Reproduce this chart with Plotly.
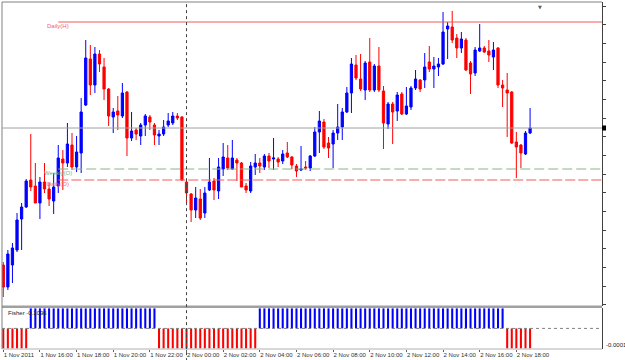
import pandas as pd
import plotly.graph_objects as go

# ---------------- data ----------------
times = list(pd.date_range("2011-11-01 14:00", periods=116, freq="15min").strftime("%Y-%m-%d %H:%M"))

opens = [1.37675, 1.37565, 1.37675, 1.37750, 1.37905, 1.37965, 1.38100, 1.38070, 1.37985, 1.38090,
         1.38055, 1.37995, 1.38070, 1.38205, 1.38185, 1.38275, 1.38165, 1.38235, 1.38475, 1.38705,
         1.38575, 1.38730, 1.38665, 1.38555, 1.38415, 1.38445, 1.38420, 1.38540, 1.38310, 1.38350,
         1.38320, 1.38375, 1.38415, 1.38375, 1.38320, 1.38330, 1.38375, 1.38385, 1.38420, 1.38415,
         1.38090, 1.38030, 1.37950, 1.38005, 1.37935, 1.38050, 1.38095, 1.38045, 1.38155, 1.38210,
         1.38155, 1.38200, 1.38185, 1.38070, 1.38045, 1.38165, 1.38185, 1.38165, 1.38220, 1.38205,
         1.38205, 1.38195, 1.38235, 1.38215, 1.38170, 1.38150, 1.38165, 1.38160, 1.38220, 1.38340,
         1.38390, 1.38285, 1.38280, 1.38335, 1.38365, 1.38440, 1.38535, 1.38675, 1.38605, 1.38550,
         1.38690, 1.38550, 1.38670, 1.38545, 1.38380, 1.38480, 1.38445, 1.38530, 1.38430, 1.38465,
         1.38560, 1.38600, 1.38600, 1.38690, 1.38655, 1.38665, 1.38680, 1.38855, 1.38865, 1.38810,
         1.38760, 1.38800, 1.38685, 1.38635, 1.38745, 1.38760, 1.38745, 1.38715, 1.38760, 1.38575,
         1.38550, 1.38540, 1.38290, 1.38275, 1.38230, 1.38335]

highs = [1.37690, 1.37750, 1.37785, 1.37935, 1.37985, 1.38105, 1.38330, 1.38185, 1.38115, 1.38185,
         1.38085, 1.38135, 1.38275, 1.38250, 1.38385, 1.38335, 1.38320, 1.38510, 1.38800, 1.38775,
         1.38765, 1.38750, 1.38710, 1.38560, 1.38460, 1.38520, 1.38585, 1.38545, 1.38440, 1.38360,
         1.38385, 1.38430, 1.38425, 1.38385, 1.38350, 1.38400, 1.38435, 1.38440, 1.38435, 1.38420,
         1.38095, 1.38035, 1.38065, 1.38055, 1.38065, 1.38210, 1.38110, 1.38210, 1.38285, 1.38275,
         1.38300, 1.38210, 1.38190, 1.38085, 1.38190, 1.38230, 1.38210, 1.38230, 1.38235, 1.38310,
         1.38215, 1.38250, 1.38290, 1.38220, 1.38180, 1.38270, 1.38195, 1.38225, 1.38365, 1.38445,
         1.38405, 1.38315, 1.38350, 1.38480, 1.38460, 1.38565, 1.38710, 1.38725, 1.38730, 1.38695,
         1.38810, 1.38680, 1.38765, 1.38570, 1.38490, 1.38490, 1.38540, 1.38540, 1.38565, 1.38570,
         1.38650, 1.38605, 1.38735, 1.38770, 1.38715, 1.38710, 1.38940, 1.38890, 1.38945, 1.38830,
         1.38840, 1.38810, 1.38695, 1.38765, 1.38880, 1.38770, 1.38800, 1.38790, 1.38765, 1.38600,
         1.38635, 1.38545, 1.38340, 1.38280, 1.38345, 1.38460]

lows = [1.37515, 1.37550, 1.37585, 1.37740, 1.37750, 1.37960, 1.38045, 1.37985, 1.37905, 1.38035,
        1.37970, 1.37930, 1.38035, 1.38050, 1.38165, 1.38150, 1.38140, 1.38135, 1.38470, 1.38525,
        1.38535, 1.38640, 1.38500, 1.38370, 1.38335, 1.38350, 1.38410, 1.38220, 1.38295, 1.38300,
        1.38275, 1.38320, 1.38350, 1.38275, 1.38275, 1.38320, 1.38365, 1.38375, 1.38400, 1.38095,
        1.37985, 1.37890, 1.37910, 1.37900, 1.37910, 1.38045, 1.38000, 1.38005, 1.38120, 1.38150,
        1.38150, 1.38095, 1.38065, 1.38035, 1.38035, 1.38125, 1.38135, 1.38150, 1.38160, 1.38150,
        1.38165, 1.38180, 1.38210, 1.38155, 1.38115, 1.38145, 1.38150, 1.38145, 1.38215, 1.38235,
        1.38255, 1.38210, 1.38160, 1.38300, 1.38300, 1.38435, 1.38435, 1.38600, 1.38545, 1.38500,
        1.38540, 1.38540, 1.38540, 1.38255, 1.38355, 1.38280, 1.38395, 1.38425, 1.38425, 1.38450,
        1.38550, 1.38540, 1.38560, 1.38640, 1.38560, 1.38620, 1.38675, 1.38705, 1.38785, 1.38710,
        1.38735, 1.38645, 1.38530, 1.38620, 1.38740, 1.38735, 1.38690, 1.38650, 1.38560, 1.38465,
        1.38315, 1.38280, 1.38110, 1.38160, 1.38225, 1.38330]

closes = [1.37565, 1.37730, 1.37760, 1.37900, 1.37965, 1.38095, 1.38065, 1.37985, 1.38090, 1.38055,
          1.38005, 1.38065, 1.38210, 1.38185, 1.38280, 1.38165, 1.38240, 1.38440, 1.38710, 1.38575,
          1.38730, 1.38680, 1.38555, 1.38420, 1.38440, 1.38425, 1.38535, 1.38310, 1.38345, 1.38330,
          1.38375, 1.38420, 1.38390, 1.38325, 1.38330, 1.38365, 1.38395, 1.38420, 1.38410, 1.38100,
          1.38035, 1.37950, 1.38010, 1.37910, 1.38035, 1.38090, 1.38050, 1.38165, 1.38215, 1.38160,
          1.38210, 1.38185, 1.38065, 1.38050, 1.38170, 1.38185, 1.38170, 1.38220, 1.38195, 1.38210,
          1.38190, 1.38230, 1.38215, 1.38175, 1.38145, 1.38155, 1.38160, 1.38220, 1.38340, 1.38395,
          1.38265, 1.38260, 1.38335, 1.38365, 1.38440, 1.38535, 1.38680, 1.38610, 1.38555, 1.38685,
          1.38550, 1.38670, 1.38550, 1.38385, 1.38480, 1.38440, 1.38525, 1.38430, 1.38470, 1.38560,
          1.38605, 1.38555, 1.38665, 1.38655, 1.38670, 1.38680, 1.38840, 1.38870, 1.38800, 1.38760,
          1.38805, 1.38650, 1.38630, 1.38750, 1.38760, 1.38740, 1.38725, 1.38750, 1.38575, 1.38560,
          1.38535, 1.38285, 1.38265, 1.38235, 1.38335, 1.38360]

fisher = [-1, -1, -1, -1, -1, -1,
          1, 1, 1, 1, 1, 1, 1, 1, 1, 1, 1, 1, 1, 1, 1, 1, 1, 1, 1, 1, 1, 1, 1, 1, 1, 1, 1, 1,
          -1, -1, -1, -1, -1, -1, -1, -1, -1, -1, -1, -1, -1, -1, -1, -1, -1, -1, -1, -1, -1, -1,
          1, 1, 1, 1, 1, 1, 1, 1, 1, 1, 1, 1, 1, 1, 1, 1, 1, 1, 1, 1, 1, 1, 1, 1, 1, 1, 1, 1, 1,
          1, 1, 1, 1, 1, 1, 1, 1, 1, 1, 1, 1, 1, 1, 1, 1, 1, 1, 1, 1, 1, 1, 1, 1, 1,
          -1, -1, -1, -1, -1, -1, -1, -1, -1, -1]

tick_times = ["2011-11-01 14:00", "2011-11-01 16:00", "2011-11-01 18:00", "2011-11-01 20:00",
              "2011-11-01 22:00", "2011-11-02 00:00", "2011-11-02 02:00", "2011-11-02 04:00",
              "2011-11-02 06:00", "2011-11-02 08:00", "2011-11-02 10:00", "2011-11-02 12:00",
              "2011-11-02 14:00", "2011-11-02 16:00", "2011-11-02 18:00"]
tick_labels = ["1 Nov 2011", "1 Nov 16:00", "1 Nov 18:00", "1 Nov 20:00", "1 Nov 22:00",
               "2 Nov 00:00", "2 Nov 02:00", "2 Nov 04:00", "2 Nov 06:00", "2 Nov 08:00",
               "2 Nov 10:00", "2 Nov 12:00", "2 Nov 14:00", "2 Nov 16:00", "2 Nov 18:00"]

level_names = ["Daily(H)", "Weekly(O)", "Daily(O)"]
level_values = [1.38890, 1.38155, 1.38100]
level_colors = ["#f25a5a", "#86b486", "#f25a5a"]
level_dash = ["solid", "10px,4px", "10px,3px"]
level_text_colors = ["#f06080", "#80b080", "#f06080"]
level_start = "2011-11-01 17:00"
day_separator = "2011-11-02 00:00"
fisher_label = "Fisher -0.1096"
fisher_axis_label = "-0.0001"

# ---------------- layout geometry ----------------
W, H = 625, 360
ML, MR, MT, MB = 2, 23, 2, 11
PH = H - MT - MB
X_RANGE = [-0.28, 130.7]
Y_RANGE = [1.374725, 1.38990]


def paper_y(px):
    return (H - MB - px) / PH


main_bottom = paper_y(305.5)
ind_top = paper_y(308)
FONT = "Liberation Sans"

fig = go.Figure()
fig.add_trace(go.Candlestick(
    x=times, open=opens, high=highs, low=lows, close=closes,
    increasing=dict(line=dict(color="#0000FF", width=1), fillcolor="#0000FF"),
    decreasing=dict(line=dict(color="#FF0000", width=1), fillcolor="#FF0000"),
    whiskerwidth=0, xaxis="x", yaxis="y", showlegend=False, hoverinfo="skip"))

bar_colors = ["#0000FF" if v > 0 else "#FF0000" for v in fisher]
fig.add_trace(go.Bar(x=times, y=fisher, marker=dict(color=bar_colors, line_width=0),
                     width=0.45, xaxis="x", yaxis="y2", showlegend=False, hoverinfo="skip"))

shapes = []
shapes.append(dict(type="rect", xref="paper", yref="paper", x0=0, x1=1, y0=ind_top, y1=main_bottom,
                   fillcolor="#a0a0a0", line=dict(width=0), layer="above"))
shapes.append(dict(type="line", xref="paper", yref="paper", x0=0, x1=1, y0=1, y1=1,
                   line=dict(color="#808080", width=1)))
shapes.append(dict(type="line", xref="paper", yref="paper", x0=0, x1=0, y0=0, y1=1,
                   line=dict(color="#808080", width=1)))
shapes.append(dict(type="line", xref="paper", yref="paper", x0=0, x1=1, y0=0, y1=0,
                   line=dict(color="#b0b0b0", width=1)))
for v, c, d in zip(level_values, level_colors, level_dash):
    shapes.append(dict(type="line", xref="x", yref="y", x0=level_start, x1=X_RANGE[1], y0=v, y1=v,
                       line=dict(color=c, width=1, dash=d), layer="above"))
shapes.append(dict(type="line", xref="paper", yref="y", x0=0, x1=1, y0=closes[-1], y1=closes[-1],
                   line=dict(color="#a0a0a0", width=1), layer="above"))
shapes.append(dict(type="rect", xref="paper", yref="y", x0=1, x1=1 + 4 / 600,
                   y0=closes[-1] - 0.000125, y1=closes[-1] + 0.000125,
                   fillcolor="#000000", line=dict(width=0)))
shapes.append(dict(type="line", xref="x", yref="paper", x0=day_separator, x1=day_separator,
                   y0=-0.035, y1=1, line=dict(color="#404040", width=1, dash="dot"), layer="above"))
shapes.append(dict(type="line", xref="paper", yref="y2", x0=0, x1=1, y0=0, y1=0,
                   line=dict(color="#808080", width=1, dash="dot"), layer="above"))

annotations = []
for name, v, tc in zip(level_names, level_values, level_text_colors):
    annotations.append(dict(x=level_start, y=v, xref="x", yref="y", text=name, showarrow=False,
                            xanchor="center", yanchor="middle", yshift=-3.5,
                            font=dict(family=FONT, size=6, color=tc)))
annotations.append(dict(x=4 / 600, y=paper_y(313), xref="paper", yref="paper", text=fisher_label,
                        showarrow=False, xanchor="left", yanchor="middle",
                        font=dict(family=FONT, size=6, color="#202020")))
annotations.append(dict(x=1 + 2 / 600, y=paper_y(345), xref="paper", yref="paper", text=fisher_axis_label,
                        showarrow=False, xanchor="left", yanchor="middle",
                        font=dict(family=FONT, size=6, color="#202020")))
annotations.append(dict(x=(540 - ML) / 600, y=1, xref="paper", yref="paper", text="▼",
                        showarrow=False, xanchor="center", yanchor="top",
                        font=dict(family="DejaVu Sans", size=5, color="#606060")))

fig.update_layout(
    width=W, height=H,
    margin=dict(l=ML, r=MR, t=MT, b=MB, autoexpand=False),
    paper_bgcolor="#ffffff", plot_bgcolor="#ffffff",
    showlegend=False,
    xaxis=dict(type="category", range=X_RANGE, anchor="y2", tickvals=tick_times, ticktext=tick_labels,
               tickangle=0, automargin=False,
               ticks="outside", ticklen=2, tickcolor="#606060", ticklabelposition="outside right",
               tickfont=dict(family=FONT, size=6, color="#303030"),
               showgrid=False, zeroline=False, showline=False, rangeslider=dict(visible=False)),
    yaxis=dict(domain=[main_bottom, 1], range=Y_RANGE, side="right", anchor="x",
               automargin=False,
               showgrid=False, zeroline=False, ticks="outside", ticklen=3, tickcolor="#404040",
               tickmode="linear", tick0=1.38970, dtick=0.0009335, showticklabels=False,
               showline=True, linecolor="#404040", linewidth=1),
    yaxis2=dict(domain=[0, ind_top], range=[-1.03, 1.02], side="right", anchor="x",
                automargin=False,
                showgrid=False, zeroline=False, showticklabels=False, ticks="",
                showline=True, linecolor="#404040", linewidth=1),
    shapes=shapes, annotations=annotations,
)

fig.write_html("out.html")
